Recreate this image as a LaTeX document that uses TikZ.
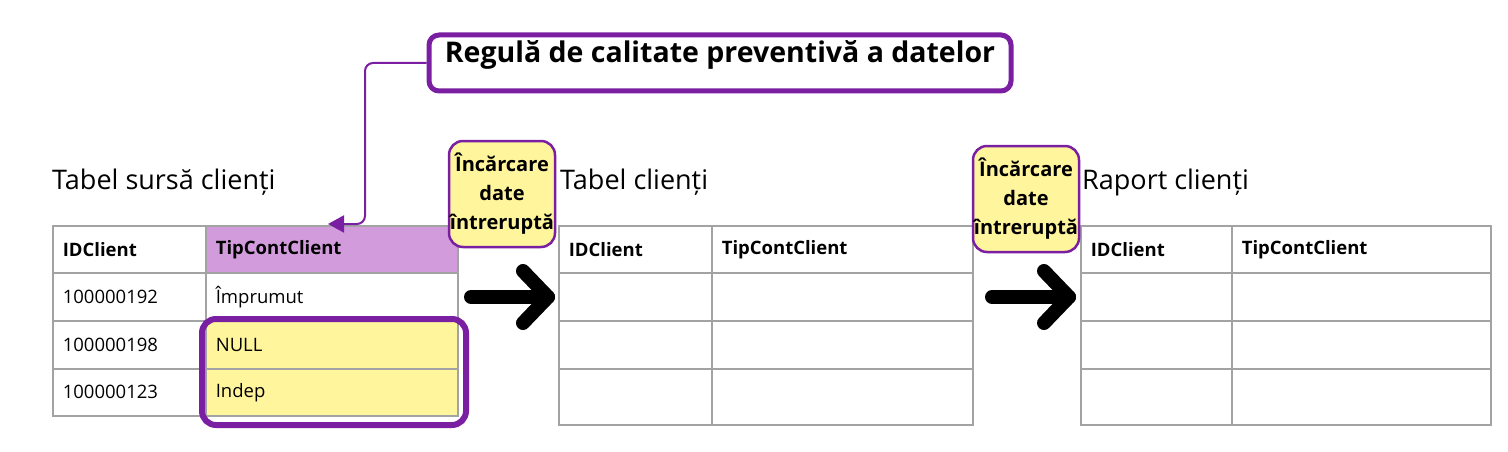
\documentclass[tikz,border=0pt]{standalone}
\usepackage{fontspec}
\setmainfont{Open Sans}
\usetikzlibrary{arrows.meta}
\definecolor{pur}{HTML}{7B1FA2}
\definecolor{lilac}{HTML}{D29BDB}
\definecolor{yel}{HTML}{FFF59D}
\definecolor{grid}{HTML}{A3A3A3}
\tikzset{
  cell/.style={draw=grid, line width=1.6pt, anchor=north west, inner xsep=10pt, inner ysep=0pt,
    align=left, font=\fontsize{18.5}{22}\selectfont},
  hcell/.style={cell, font=\fontsize{18.5}{22}\selectfont\bfseries},
  ttl/.style={anchor=west, inner sep=0pt, font=\fontsize{27}{32}\selectfont},
  blob/.style={draw=pur, fill=yel, line width=2.5pt, rounded corners=14pt, minimum width=106pt,
    minimum height=106pt, inner sep=0pt, align=center, font=\fontsize{20}{29}\selectfont\bfseries},
  bigarrow/.style={line width=14pt, line cap=round, line join=round},
}
\begin{document}
\begin{tikzpicture}[x=1pt,y=-1pt]
\useasboundingbox[fill=white] (0,0) rectangle (1508,452);
% rule box
\node[draw=pur, line width=5pt, rounded corners=10pt, minimum width=582pt, minimum height=56pt, inner sep=0pt] (rule) at (720,63) {};
\node[font=\fontsize{28.5}{32}\selectfont\bfseries, inner sep=0pt] (ruletxt) at (720,55) {Regulă de calitate preventivă a datelor};
% titles
\node[ttl] (t1) at (52,182) {Tabel sursă clienți};
\node[ttl] (t2) at (560,182) {Tabel clienți};
\node[ttl] (t3) at (1082,182) {Raport clienți};
% table 1
\node[hcell, text width=133pt, minimum height=47pt] (a11) at (52,225) {IDClient};
\node[hcell, fill=lilac, text width=232pt, minimum height=47pt] (a12) at (205,225) {TipContClient};
\node[cell, text width=133pt, minimum height=48pt] (a21) at (52,272) {100000192};
\node[cell, text width=232pt, minimum height=48pt] (a22) at (205,272) {Împrumut};
\node[cell, text width=133pt, minimum height=48pt] (a31) at (52,320) {100000198};
\node[cell, fill=yel, text width=232pt, minimum height=48pt] (a32) at (205,320) {NULL};
\node[cell, text width=133pt, minimum height=47pt] (a41) at (52,368) {100000123};
\node[cell, fill=yel, text width=232pt, minimum height=47pt] (a42) at (205,368) {Indep};
\node[draw=pur, line width=6pt, rounded corners=14pt, minimum width=264pt, minimum height=106pt, anchor=north west, inner sep=0pt] (hl) at (199,316) {};
% table 2
\node[hcell, text width=133pt, minimum height=47pt] (b11) at (558,225) {IDClient};
\node[hcell, text width=241pt, minimum height=47pt] (b12) at (711,225) {TipContClient};
\node[cell, text width=133pt, minimum height=48pt] (b21) at (558,272) {};
\node[cell, text width=241pt, minimum height=48pt] (b22) at (711,272) {};
\node[cell, text width=133pt, minimum height=48pt] (b31) at (558,320) {};
\node[cell, text width=241pt, minimum height=48pt] (b32) at (711,320) {};
\node[cell, text width=133pt, minimum height=56pt] (b41) at (558,368) {};
\node[cell, text width=241pt, minimum height=56pt] (b42) at (711,368) {};
% table 3
\node[hcell, text width=131pt, minimum height=47pt] (c11) at (1080,225) {IDClient};
\node[hcell, text width=239pt, minimum height=47pt] (c12) at (1231,225) {TipContClient};
\node[cell, text width=131pt, minimum height=48pt] (c21) at (1080,272) {};
\node[cell, text width=239pt, minimum height=48pt] (c22) at (1231,272) {};
\node[cell, text width=131pt, minimum height=48pt] (c31) at (1080,320) {};
\node[cell, text width=239pt, minimum height=48pt] (c32) at (1231,320) {};
\node[cell, text width=131pt, minimum height=56pt] (c41) at (1080,368) {};
\node[cell, text width=239pt, minimum height=56pt] (c42) at (1231,368) {};
% blobs
\node[blob] (bl1) at (502,194) {Încărcare\\date\\întreruptă};
\node[blob] (bl2) at (1026,199) {Încărcare\\date\\întreruptă};
% big arrows
\coordinate (p1s) at (471,297);
\coordinate (p1e) at (548,297);
\coordinate (p2s) at (992,297);
\coordinate (p2e) at (1069,297);
\draw[bigarrow] (p1s) -- (p1e);
\draw[bigarrow] ([shift={(-25,-26)}]p1e) -- (p1e) -- ([shift={(-25,26)}]p1e);
\draw[bigarrow] (p2s) -- (p2e);
\draw[bigarrow] ([shift={(-25,-26)}]p2e) -- (p2e) -- ([shift={(-25,26)}]p2e);
% connector
\coordinate (tip) at (328,224);
\draw[pur, line width=2pt, rounded corners=8pt, -{Triangle[length=16pt,width=17pt]}] (rule.west) -- (365,63) -- (365,224) -- (tip);
\end{tikzpicture}
\end{document}
